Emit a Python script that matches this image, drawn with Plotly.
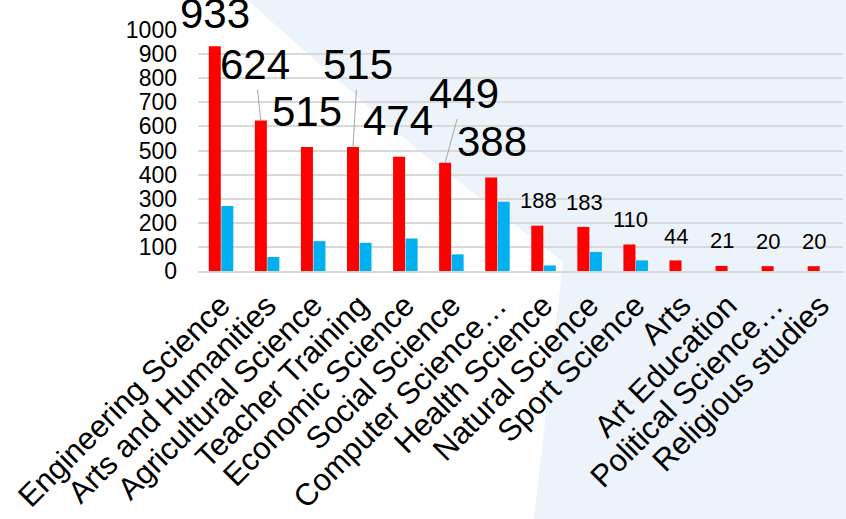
import plotly.graph_objects as go

# ---------------- data ----------------
categories = [
    "Engineering Science", "Arts and Humanities", "Agricultural Science",
    "Teacher Training", "Economic Science", "Social Science",
    "Computer Science…", "Health Science", "Natural Science",
    "Sport Science", "Arts", "Art Education", "Political Science…",
    "Religious studies",
]
red_values = [933, 624, 515, 515, 474, 449, 388, 188, 183, 110, 44, 21, 20, 20]
blue_values = [270, 58, 124, 117, 135, 69, 287, 23, 79, 44, None, None, None, None]
y_tick_values = [0, 100, 200, 300, 400, 500, 600, 700, 800, 900, 1000]
y_tick_labels = ["0", "100", "200", "300", "400", "500", "600", "700", "800", "900", "1000"]

# ---------------- styles ----------------
W, H = 846, 519
ML, MR, MT, MB = 198, 3, 30, 248
RED = "#FF0000"
BLUE = "#00B0F0"
GRID = "#D9D9D9"
BG_BLUE = "#EDF3FA"
FONT = "Liberation Sans, Arial, sans-serif"

# label style per red bar: font size, offset of label centre from bar top (px), leader line
label_style = [
    dict(size=42, dx=0, dy=-33, arrow=False),
    dict(size=42, dx=-6, dy=-56, arrow=True),
    dict(size=42, dx=0, dy=-35, arrow=False),
    dict(size=42, dx=5, dy=-82, arrow=True),
    dict(size=42, dx=-1, dy=-36, arrow=False),
    dict(size=42, dx=19, dy=-69, arrow=True),
    dict(size=42, dx=1, dy=-36, arrow=False),
    dict(size=22, dx=1, dy=-25, arrow=False),
    dict(size=22, dx=1, dy=-24, arrow=False),
    dict(size=22, dx=1, dy=-25, arrow=False),
    dict(size=22, dx=1, dy=-24, arrow=False),
    dict(size=22, dx=0, dy=-25, arrow=False),
    dict(size=22, dx=0, dy=-25, arrow=False),
    dict(size=22, dx=0, dy=-25, arrow=False),
]
RED_SHIFT = -6.3  # red bar centre relative to category centre (px)

fig = go.Figure()
fig.add_trace(go.Bar(x=categories, y=red_values, marker=dict(color=RED, line=dict(width=0)),
                     showlegend=False, hoverinfo="x+y"))
fig.add_trace(go.Bar(x=categories, y=blue_values, marker=dict(color=BLUE, line=dict(width=0)),
                     showlegend=False, hoverinfo="x+y"))

annotations = []
for cat, val, st in zip(categories, red_values, label_style):
    if st["arrow"]:
        annotations.append(dict(
            x=cat, y=val, xref="x", yref="y", text=str(val),
            showarrow=True, ax=st["dx"], ay=st["dy"], axref="pixel", ayref="pixel",
            arrowhead=0, arrowwidth=1, arrowcolor="#A6A6A6", standoff=0, startstandoff=0,
            xshift=RED_SHIFT, font=dict(size=st["size"], color="black", family=FONT),
        ))
    else:
        annotations.append(dict(
            x=cat, y=val, xref="x", yref="y", text=str(val), showarrow=False,
            xanchor="center", yanchor="middle",
            xshift=RED_SHIFT + st["dx"], yshift=-st["dy"],
            font=dict(size=st["size"], color="black", family=FONT),
        ))

# decorative light-blue background polygon (pixel coords -> paper coords)
pw = W - ML - MR
ph = H - MT - MB
def px(x):
    return (x - ML) / pw
def py(y):
    return (H - MB - y) / ph
poly = [(247, 0), (420, 152), (563, 262), (534, 519), (846, 519), (846, 0)]
path = "M " + " L ".join(f"{px(a):.5f},{py(b):.5f}" for a, b in poly) + " Z"

fig.update_layout(
    width=W, height=H,
    margin=dict(l=ML, r=MR, t=MT, b=MB, pad=0, autoexpand=False),
    paper_bgcolor="white",
    plot_bgcolor="rgba(0,0,0,0)",
    barmode="group",
    bargap=0.457,
    bargroupgap=0.04,
    font=dict(family=FONT, color="black"),
    shapes=[dict(type="path", path=path, xref="paper", yref="paper",
                 fillcolor=BG_BLUE, line=dict(width=0), layer="below")],
    annotations=annotations,
    showlegend=False,
)
fig.update_yaxes(
    range=[0, 1000], tickvals=y_tick_values, ticktext=y_tick_labels,
    showgrid=True, gridcolor=GRID, gridwidth=2, zeroline=False, showline=False,
    tickfont=dict(size=23, color="black", family=FONT), ticks="", ticklabelstandoff=20,
    automargin=False,
)
fig.update_xaxes(
    range=[-0.5, len(categories) - 0.5],
    tickangle=-45, tickfont=dict(size=31, color="black", family=FONT),
    showline=True, linecolor=GRID, linewidth=2, ticks="", showgrid=False,
    ticklabelstandoff=2, automargin=False,
)

fig.write_html(
    "out.html",
    config={"displayModeBar": False},
    post_script="document.body.style.margin='0px';document.body.style.overflow='hidden';",
)
